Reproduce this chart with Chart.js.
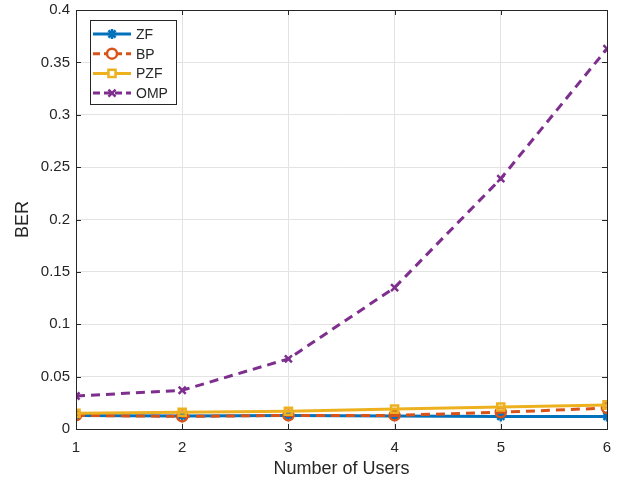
<!DOCTYPE html>
<html>
<head>
<meta charset="utf-8">
<script src="https://cdn.jsdelivr.net/npm/chart.js@4"></script>
<style>
  html, body { margin: 0; padding: 0; background: #fff; }
  canvas { display: block; }
</style>
</head>
<body>
<canvas id="berChart" width="624" height="487"></canvas>
<script>
// Values
const users = [1, 2, 3, 4, 5, 6];
const berZF = [0.013, 0.0125, 0.013, 0.0125, 0.012, 0.012];
const berBP = [0.013, 0.012, 0.013, 0.013, 0.016, 0.020];
const berPZF = [0.015, 0.016, 0.017, 0.019, 0.021, 0.023];
const berOMP = [0.0315, 0.037, 0.067, 0.135, 0.239, 0.363];
const seriesNames = ['ZF', 'BP', 'PZF', 'OMP'];

const FONT = "'Liberation Sans', Arial, Helvetica, sans-serif";
const AXIS = '#262626';

function pts(ys) {
  return users.map((u, i) => ({ x: u, y: ys[i] }));
}

const styles = [
  { color: '#0072BD', marker: 'star', dash: [] },
  { color: '#D95319', marker: 'circle', dash: [9, 6] },
  { color: '#EDB120', marker: 'rect', dash: [] },
  { color: '#7E2F8E', marker: 'crossRot', dash: [9, 6] }
];

const allData = [berZF, berBP, berPZF, berOMP];

const datasets = allData.map((ys, i) => ({
  label: seriesNames[i],
  data: pts(ys),
  borderColor: styles[i].color,
  backgroundColor: 'rgba(255,255,255,0)',
  borderWidth: 3,
  borderDash: styles[i].dash,
  pointStyle: styles[i].marker,
  pointRadius: 5,
  pointBorderWidth: 2.5,
  pointBorderColor: styles[i].color,
  pointBackgroundColor: 'rgba(255,255,255,0)',
  tension: 0,
  order: 4 - i
}));

// frame, inside tick marks and MATLAB-like legend box
const matlabLook = {
  id: 'matlabLook',
  afterDraw(chart) {
    const { ctx, chartArea: a, scales } = chart;
    ctx.save();
    // inside ticks
    ctx.strokeStyle = AXIS;
    ctx.lineWidth = 1;
    ctx.beginPath();
    users.forEach(u => {
      const px = Math.round(scales.x.getPixelForValue(u)) + 0.5;
      ctx.moveTo(px, a.bottom); ctx.lineTo(px, a.bottom - 5);
      ctx.moveTo(px, a.top); ctx.lineTo(px, a.top + 5);
    });
    scales.y.ticks.forEach(t => {
      const py = Math.round(scales.y.getPixelForValue(t.value)) + 0.5;
      ctx.moveTo(a.left, py); ctx.lineTo(a.left + 5, py);
      ctx.moveTo(a.right, py); ctx.lineTo(a.right - 5, py);
    });
    ctx.stroke();
    // box
    ctx.strokeRect(Math.round(a.left) + 0.5, Math.round(a.top) + 0.5,
      Math.round(a.right - a.left), Math.round(a.bottom - a.top));

    // legend
    const lx = a.left + 14, ly = a.top + 10, lw = 86, lh = 84;
    ctx.fillStyle = '#fff';
    ctx.fillRect(lx, ly, lw, lh);
    ctx.strokeStyle = AXIS;
    ctx.strokeRect(lx + 0.5, ly + 0.5, lw, lh);
    ctx.font = '14px ' + FONT;
    ctx.textBaseline = 'middle';
    chart.data.datasets.forEach((ds, i) => {
      const y = ly + 14 + i * 19.7;
      const x0 = lx + 3, x1 = lx + 41;
      ctx.strokeStyle = ds.borderColor;
      ctx.lineWidth = 3;
      ctx.setLineDash(ds.borderDash.length ? [7, 4] : []);
      ctx.beginPath();
      ctx.moveTo(x0, y); ctx.lineTo(x1, y);
      ctx.stroke();
      ctx.setLineDash([]);
      ctx.lineWidth = 2.5;
      ctx.fillStyle = '#fff';
      Chart.helpers.drawPoint(ctx, {
        pointStyle: ds.pointStyle, radius: 5, rotation: 0, borderWidth: 2.5
      }, (x0 + x1) / 2, y);
      ctx.fillStyle = AXIS;
      ctx.fillText(ds.label, lx + 46, y + 1);
    });
    ctx.restore();
  }
};

const chart = new Chart(document.getElementById('berChart'), {
  type: 'line',
  data: { datasets },
  options: {
    responsive: false,
    animation: false,
    layout: { padding: { top: 10, right: 17, left: 0, bottom: 0 } },
    plugins: { legend: { display: false }, tooltip: { enabled: false } },
    scales: {
      x: {
        type: 'linear',
        min: 1, max: 6,
        ticks: { stepSize: 1, color: AXIS, font: { family: FONT, size: 15 }, padding: 10 },
        grid: { color: '#e3e3e3', drawTicks: false },
        border: { display: false },
        title: { display: true, text: 'Number of Users', color: AXIS, font: { family: FONT, size: 18 }, padding: { top: 0, bottom: 7 } },
        afterFit(s) { s.height = 58; s.paddingLeft = 0; s.paddingRight = 0; }
      },
      y: {
        min: 0, max: 0.4,
        ticks: {
          stepSize: 0.05, color: AXIS, font: { family: FONT, size: 15 }, padding: 6,
          callback: v => String(Number(v.toFixed(2)))
        },
        grid: { color: '#e3e3e3', drawTicks: false },
        border: { display: false },
        title: { display: true, text: 'BER', color: AXIS, font: { family: FONT, size: 18 }, padding: { top: 12, bottom: 4 } },
        afterFit(s) { s.width = 76; s.paddingTop = 0; s.paddingBottom = 0; }
      }
    }
  },
  plugins: [matlabLook]
});
</script>
</body>
</html>
